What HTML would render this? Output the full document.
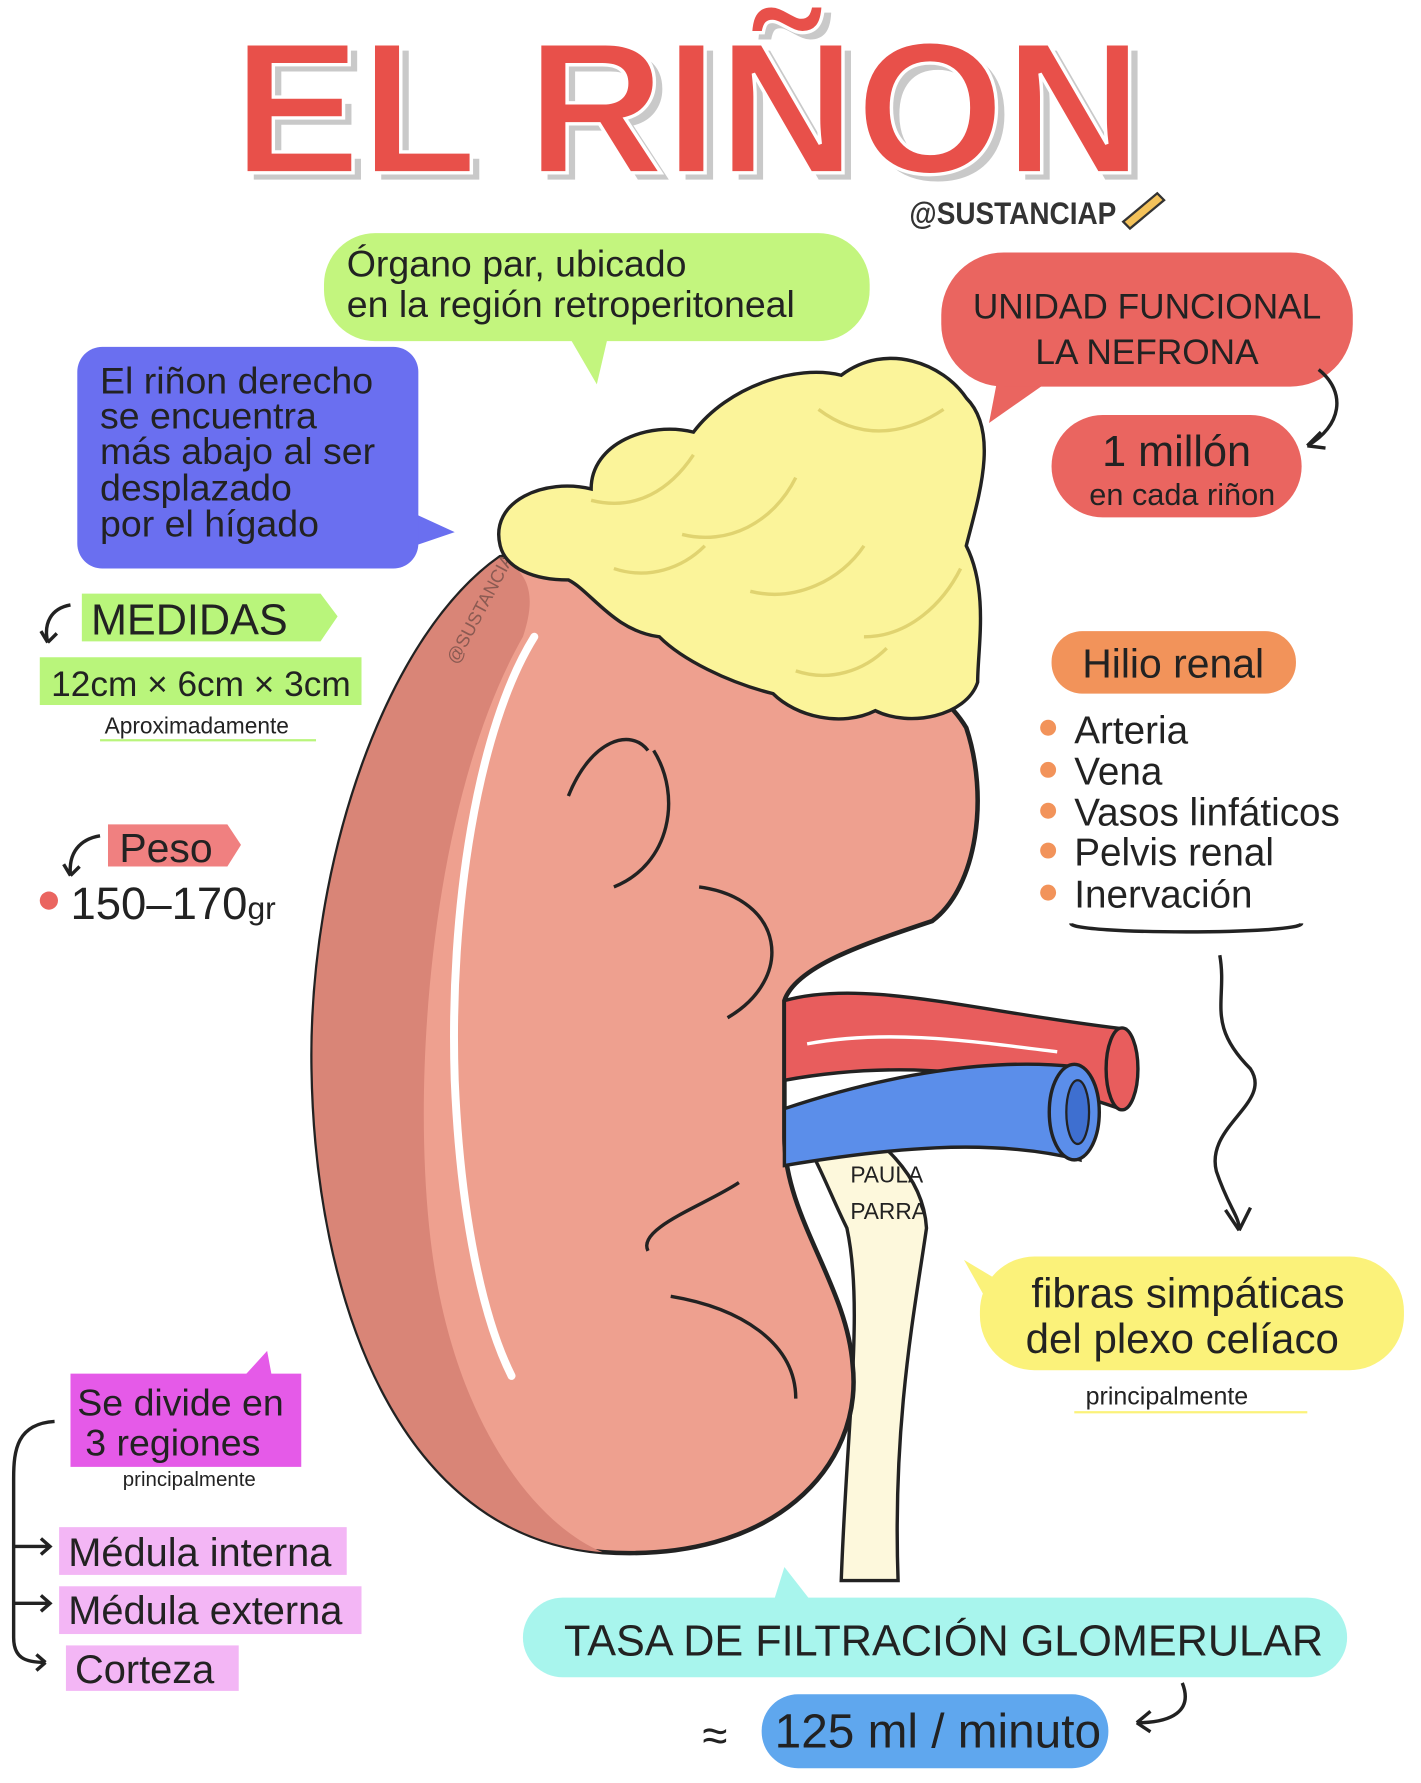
<!DOCTYPE html>
<html><head><meta charset="utf-8"><style>
html,body{margin:0;padding:0;background:#fff;}
svg{display:block;}
text{font-family:"Liberation Sans",sans-serif;fill:#222;}
</style></head><body>
<svg width="1421" height="1783" viewBox="0 0 1250 1568" preserveAspectRatio="none" xmlns="http://www.w3.org/2000/svg">
<rect width="1250" height="1568" fill="#fff"/>
<!-- Title -->
<text x="212" y="158" font-size="165" font-weight="bold" style="fill:#c9c9c9" textLength="800" lengthAdjust="spacingAndGlyphs">EL RIÑON</text>
<text x="205" y="152" font-size="165" font-weight="bold" style="fill:#e8504a;stroke:#fff;stroke-width:3" textLength="800" lengthAdjust="spacingAndGlyphs">EL RIÑON</text>
<text x="800" y="197" font-size="28" font-weight="bold" style="fill:#333" textLength="182" lengthAdjust="spacingAndGlyphs">@SUSTANCIAP</text>
<path d="M988 195 l30 -25 6 6 -30 25z" fill="#f4c25a" stroke="#333" stroke-width="2"/>

<!-- Green bubble -->
<path d="M500 295 L525 338 L535 295 Z" fill="#c3f57e"/>
<rect x="285" y="205" width="480" height="95" rx="45" fill="#c3f57e"/>
<text x="305" y="243" font-size="33">Órgano par, ubicado</text>
<text x="305" y="279" font-size="33">en la región retroperitoneal</text>

<!-- Red bubble -->
<path d="M880 320 L870 372 L930 330 Z" fill="#ea6560"/>
<rect x="828" y="222" width="362" height="118" rx="55" fill="#ea6560"/>
<text x="1009" y="280" text-anchor="middle" font-size="31">UNIDAD FUNCIONAL</text>
<text x="1009" y="320" text-anchor="middle" font-size="31">LA NEFRONA</text>
<path d="M1160 325 C1185 345 1180 375 1150 392" fill="none" stroke="#222" stroke-width="3"/>
<path d="M1150 392 l12 -12 M1150 392 l16 2" stroke="#222" stroke-width="3"/>
<rect x="925" y="365" width="220" height="90" rx="45" fill="#ea6560"/>
<text x="1035" y="410" text-anchor="middle" font-size="38">1 millón</text>
<text x="1040" y="444" text-anchor="middle" font-size="27">en cada riñon</text>

<!-- Blue box -->
<path d="M350 445 L400 468 L350 485 Z" fill="#6a6ff0"/>
<rect x="68" y="305" width="300" height="195" rx="22" fill="#6a6ff0"/>
<text x="88" y="346" font-size="33">El riñon derecho</text>
<text x="88" y="377" font-size="33">se encuentra</text>
<text x="88" y="408" font-size="33">más abajo al ser</text>
<text x="88" y="440" font-size="33">desplazado</text>
<text x="88" y="472" font-size="33">por el hígado</text>

<!-- Medidas -->
<path d="M62 532 C45 535 38 548 42 565" fill="none" stroke="#222" stroke-width="3"/>
<path d="M42 565 l-6 -10 M42 565 l8 -8" stroke="#222" stroke-width="3"/>
<path d="M72 522 h210 l15 20 -15 22 h-210z" fill="#b9f57b"/>
<text x="80" y="558" font-size="38">MEDIDAS</text>
<rect x="35" y="578" width="283" height="42" fill="#b9f57b"/>
<text x="45" y="612" font-size="31">12cm × 6cm × 3cm</text>
<text x="92" y="645" font-size="20">Aproximadamente</text>
<line x1="88" y1="651" x2="278" y2="651" stroke="#b9f57b" stroke-width="2"/>

<!-- Peso -->
<path d="M88 735 C70 738 60 750 62 770" fill="none" stroke="#222" stroke-width="3"/>
<path d="M62 770 l-6 -10 M62 770 l8 -8" stroke="#222" stroke-width="3"/>
<path d="M95 725 h105 l12 18 -12 19 h-105z" fill="#f08080"/>
<text x="105" y="758" font-size="36">Peso</text>
<circle cx="43" cy="792" r="8" fill="#ea6560"/>
<text x="62" y="808" font-size="40">150–170<tspan font-size="28">gr</tspan></text>

<!-- Ureter -->
<path d="M700 990 C720 1020 730 1050 745 1080 C760 1150 745 1250 740 1390 L790 1390 C785 1250 805 1150 815 1080 C812 1030 770 1000 740 980 Z" fill="#fdf8dc" stroke="#222" stroke-width="3"/>
<text x="748" y="1040" font-size="20">PAULA</text>
<text x="748" y="1072" font-size="20">PARRA</text>

<!-- Kidney -->
<path d="M440 490 C340 560 272 760 275 940 C278 1140 350 1350 530 1365 C680 1375 760 1290 750 1200 C745 1130 690 1070 690 1000 L690 880 C700 850 760 830 820 810 C860 780 870 700 850 640 C820 590 740 560 640 540 C560 520 500 480 440 490 Z" fill="#eea08f" stroke="#222" stroke-width="4"/>
<path d="M440 490 C340 560 272 760 275 940 C278 1140 350 1350 530 1365 C470 1340 400 1250 380 1100 C360 950 380 700 460 560 C470 530 470 505 440 490Z" fill="#d98577"/>
<path d="M470 560 C420 640 395 800 400 950 C405 1070 425 1160 450 1210" fill="none" stroke="#fff" stroke-width="7" stroke-linecap="round"/>
<path d="M575 660 C600 700 590 760 540 780" fill="none" stroke="#222" stroke-width="3"/>
<path d="M615 780 C690 790 700 860 640 895" fill="none" stroke="#222" stroke-width="3"/>
<path d="M650 1040 C620 1060 560 1080 570 1100" fill="none" stroke="#222" stroke-width="3"/>
<path d="M590 1140 C650 1150 700 1180 700 1230" fill="none" stroke="#222" stroke-width="3"/>
<path d="M500 700 C520 650 555 640 570 660" fill="none" stroke="#222" stroke-width="3"/>
<text x="402" y="585" font-size="16" transform="rotate(-62 402 585)" style="fill:#8a5a52">@SUSTANCIAP</text>

<!-- Vessels -->
<path d="M690 880 C760 860 860 890 990 905 L985 975 C900 945 800 930 690 950 Z" fill="#e85d5d" stroke="#222" stroke-width="3"/>
<ellipse cx="987" cy="940" rx="14" ry="36" fill="#e85d5d" stroke="#222" stroke-width="3"/>
<path d="M690 975 C780 945 870 930 945 938 L950 1020 C870 1000 780 1010 690 1025 Z" fill="#5b8eea" stroke="#222" stroke-width="3"/>
<ellipse cx="945" cy="978" rx="22" ry="42" fill="#5b8eea" stroke="#222" stroke-width="3"/>
<ellipse cx="948" cy="978" rx="10" ry="28" fill="#3e6fd0" stroke="#222" stroke-width="2"/>
<path d="M710 918 C780 905 850 915 930 925" fill="none" stroke="#fff" stroke-width="3"/>

<!-- Adrenal -->
<g fill="#fbf49a" stroke="#222" stroke-width="3">
<path d="M440 480 C430 440 480 420 520 430 C520 390 570 370 610 380 C640 340 700 320 740 330 C780 300 830 320 850 350 C880 380 860 440 850 480 C870 520 860 570 860 600 C850 630 800 640 770 625 C740 640 700 630 680 610 C640 600 600 580 580 560 C540 555 520 520 500 510 C470 510 445 500 440 480 Z"/>
</g>
<g fill="none" stroke="#e0d370" stroke-width="3">
<path d="M520 440 C560 450 590 430 610 400"/><path d="M600 470 C640 480 680 460 700 420"/>
<path d="M720 360 C760 390 800 380 830 360"/><path d="M660 520 C700 530 740 510 760 480"/>
<path d="M760 560 C800 560 830 530 845 500"/><path d="M540 500 C570 510 600 500 620 480"/>
<path d="M700 590 C730 600 760 590 780 570"/>
</g>

<!-- Hilio -->
<rect x="925" y="555" width="215" height="55" rx="27" fill="#f2935a"/>
<text x="1032" y="596" text-anchor="middle" font-size="36">Hilio renal</text>
<g fill="#f2935a"><circle cx="922" cy="640" r="7"/><circle cx="922" cy="677" r="7"/><circle cx="922" cy="713" r="7"/><circle cx="922" cy="748" r="7"/><circle cx="922" cy="785" r="7"/></g>
<text x="945" y="654" font-size="34">Arteria</text>
<text x="945" y="690" font-size="34">Vena</text>
<text x="945" y="726" font-size="34">Vasos linfáticos</text>
<text x="945" y="761" font-size="34">Pelvis renal</text>
<text x="945" y="798" font-size="34">Inervación</text>
<path d="M942 812 C942 822 1145 822 1145 812" fill="none" stroke="#222" stroke-width="3"/>
<path d="M1073 840 C1080 880 1060 900 1100 940 C1120 970 1060 990 1070 1030 C1080 1060 1090 1070 1090 1080" fill="none" stroke="#222" stroke-width="3"/>
<path d="M1090 1082 l-12 -18 M1090 1082 l10 -20" stroke="#222" stroke-width="3"/>

<!-- Yellow bubble -->
<path d="M885 1130 L848 1108 L880 1165 Z" fill="#fbf27a"/>
<rect x="862" y="1105" width="373" height="100" rx="48" fill="#fbf27a"/>
<text x="1045" y="1150" text-anchor="middle" font-size="37">fibras simpáticas</text>
<text x="1040" y="1190" text-anchor="middle" font-size="37">del plexo celíaco</text>
<text x="955" y="1235" font-size="22">principalmente</text>
<line x1="945" y1="1242" x2="1150" y2="1242" stroke="#fbf27a" stroke-width="2"/>

<!-- Regions -->
<path d="M215 1210 L235 1188 L240 1215 Z" fill="#e55ae8"/>
<rect x="62" y="1208" width="203" height="82" fill="#e55ae8"/>
<text x="68" y="1245" font-size="33">Se divide en</text>
<text x="75" y="1280" font-size="33">3 regiones</text>
<text x="108" y="1307" font-size="18">principalmente</text>
<path d="M48 1250 C15 1252 12 1275 12 1300 L12 1440 C12 1458 22 1462 40 1462" fill="none" stroke="#222" stroke-width="3"/>
<g stroke="#222" stroke-width="3" fill="none">
<path d="M12 1360 h32 M36 1353 l8 7 -8 7"/><path d="M12 1410 h32 M36 1403 l8 7 -8 7"/><path d="M40 1462 l-8 -7 M40 1462 l-8 7"/>
</g>
<rect x="52" y="1343" width="253" height="42" fill="#f3b6f5"/>
<rect x="52" y="1395" width="266" height="42" fill="#f3b6f5"/>
<rect x="58" y="1447" width="152" height="40" fill="#f3b6f5"/>
<text x="60" y="1377" font-size="35">Médula interna</text>
<text x="60" y="1428" font-size="35">Médula externa</text>
<text x="66" y="1480" font-size="35">Corteza</text>

<!-- TFG -->
<path d="M680 1410 L690 1378 L715 1410 Z" fill="#a8f5ed"/>
<rect x="460" y="1405" width="725" height="70" rx="35" fill="#a8f5ed"/>
<text x="830" y="1456" text-anchor="middle" font-size="38">TASA DE FILTRACIÓN GLOMERULAR</text>
<rect x="670" y="1490" width="305" height="65" rx="32" fill="#5fa7ee"/>
<text x="825" y="1537" text-anchor="middle" font-size="42">125 ml / minuto</text>
<text x="618" y="1540" font-size="40">≈</text>
<path d="M1040 1480 C1050 1505 1030 1515 1000 1515" fill="none" stroke="#222" stroke-width="3"/>
<path d="M1000 1515 l12 -10 M1000 1515 l12 8" stroke="#222" stroke-width="3"/>
</svg>
</body></html>
